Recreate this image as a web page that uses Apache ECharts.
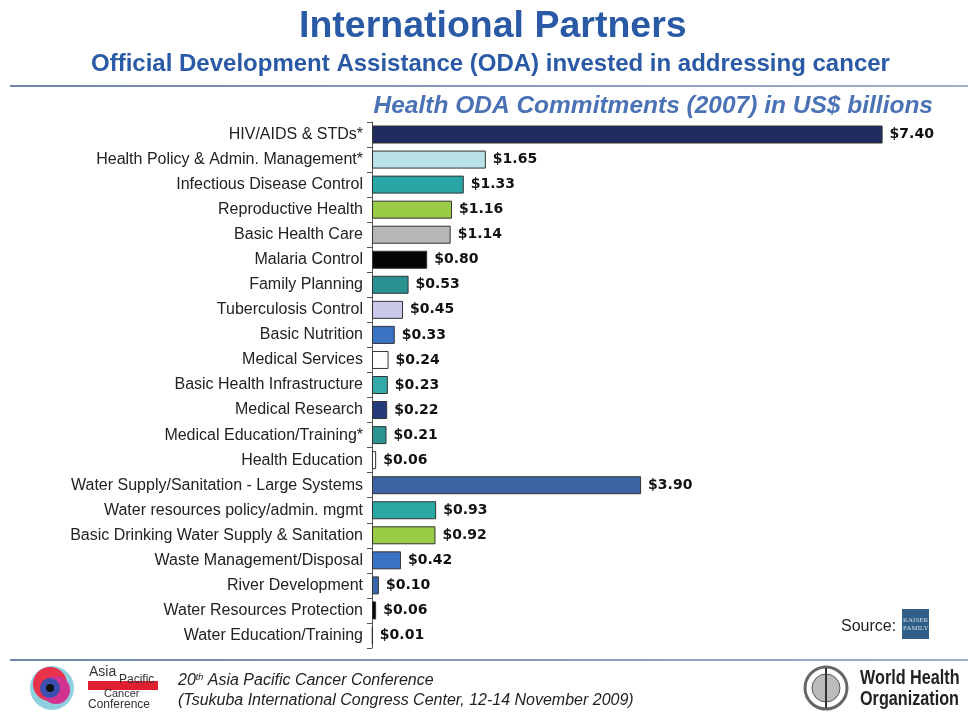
<!DOCTYPE html>
<html><head><meta charset="utf-8">
<script src="https://cdn.jsdelivr.net/npm/echarts@6/dist/echarts.min.js"></script>
<style>html,body{margin:0;padding:0;background:#fff;}#c{width:968px;height:713px;}</style>
</head><body><div id="c"></div>
<script>
const categories = [
  "HIV/AIDS & STDs*",
  "Health Policy & Admin. Management*",
  "Infectious Disease Control",
  "Reproductive Health",
  "Basic Health Care",
  "Malaria Control",
  "Family Planning",
  "Tuberculosis Control",
  "Basic Nutrition",
  "Medical Services",
  "Basic Health Infrastructure",
  "Medical Research",
  "Medical Education/Training*",
  "Health Education",
  "Water Supply/Sanitation - Large Systems",
  "Water resources policy/admin. mgmt",
  "Basic Drinking Water Supply & Sanitation",
  "Waste Management/Disposal",
  "River Development",
  "Water Resources Protection",
  "Water Education/Training"
];
const values = [7.40, 1.65, 1.33, 1.16, 1.14, 0.80, 0.53, 0.45, 0.33, 0.24, 0.23, 0.22, 0.21, 0.06, 3.90, 0.93, 0.92, 0.42, 0.10, 0.06, 0.01];
const barColors = ["#1f2b5c", "#b9e2e8", "#2aa6a6", "#9acb45", "#b7b7b9", "#050505", "#2a9191", "#c8c8e8", "#3a72c4", "#ffffff", "#33aaa8", "#263a7c", "#2a9490", "#ffffff", "#3b64a0", "#2aa8a2", "#9acb45", "#3a72c4", "#3a68ac", "#050505", "#ffffff"];

const chart = echarts.init(document.getElementById('c'), null, {renderer: 'canvas'});
const blue = '#2a5aa6';
const lineGrad = () => new echarts.graphic.LinearGradient(0, 0, 1, 0, [{offset: 0, color: '#6d86aa'}, {offset: 1, color: '#9fb0c8'}]);
chart.setOption({
  backgroundColor: '#ffffff',
  animation: false,
  grid: {left: 372, right: 44, top: 122, height: 526, containLabel: false},
  xAxis: {type: 'value', min: 0, max: 8, show: false},
  yAxis: {
    type: 'category', inverse: true, data: categories,
    axisLine: {show: true, lineStyle: {color: '#555', width: 1}},
    axisTick: {show: true, length: 5, lineStyle: {color: '#555'}},
    axisLabel: {fontFamily: 'Liberation Sans, Arial, sans-serif', fontSize: 16, color: '#222', margin: 9}
  },
  series: [{
    type: 'bar', barWidth: 18,
    data: values.map((v, i) => ({value: v, itemStyle: {color: barColors[i]}})),
    itemStyle: {borderColor: '#333', borderWidth: 1},
    label: {show: true, position: 'right', distance: 7,
      formatter: p => '$' + p.value.toFixed(2),
      fontFamily: 'DejaVu Sans, Verdana, sans-serif', fontWeight: 'bold', fontSize: 14, color: '#111'}
  }],
  graphic: [
    {type: 'text', left: 299, top: 8, style: {text: 'International Partners', font: 'bold 37.5px "Liberation Sans", Arial, sans-serif', fill: blue}},
    {type: 'text', left: 91, top: 52, style: {text: 'Official Development Assistance (ODA) invested in addressing cancer', font: 'bold 24px "Liberation Sans", Arial, sans-serif', fill: blue}},
    {type: 'rect', shape: {x: 10, y: 85, width: 958, height: 2}, style: {fill: lineGrad()}},
    {type: 'text', right: 35, top: 94, style: {text: 'Health ODA Commitments (2007) in US$ billions', font: 'italic bold 24.5px "Liberation Sans", Arial, sans-serif', fill: '#4b72b4'}},
    {type: 'text', left: 841, top: 619, style: {text: 'Source:', font: '16px "Liberation Sans", Arial, sans-serif', fill: '#222'}},
    {type: 'rect', shape: {x: 902, y: 609, width: 27, height: 30}, style: {fill: '#2f5f86'}},
    {type: 'text', left: 903, top: 616, style: {text: 'KAISER\nFAMILY', font: '7px "Liberation Serif", serif', fill: '#cfdbe6', lineHeight: 8}},
    {type: 'rect', shape: {x: 10, y: 659, width: 958, height: 2}, style: {fill: lineGrad()}},
    // Asia Pacific logo
    {type: 'circle', shape: {cx: 52, cy: 688, r: 22}, style: {fill: '#8fd0e0'}},
    {type: 'circle', shape: {cx: 50, cy: 684, r: 17}, style: {fill: '#e8324a'}},
    {type: 'circle', shape: {cx: 56, cy: 690, r: 14}, style: {fill: '#d2338f'}},
    {type: 'circle', shape: {cx: 50, cy: 688, r: 10}, style: {fill: '#3b4fb0'}},
    {type: 'circle', shape: {cx: 50, cy: 688, r: 4}, style: {fill: '#111'}},
    {type: 'rect', shape: {x: 88, y: 681, width: 70, height: 9}, style: {fill: '#e02030'}},
    {type: 'text', x: 89, y: 665, style: {text: 'Asia', font: '14px "Liberation Sans", Arial, sans-serif', fill: '#333'}},
    {type: 'text', x: 119, y: 674, style: {text: 'Pacific', font: '12px "Liberation Sans", Arial, sans-serif', fill: '#333'}},
    {type: 'text', x: 104, y: 688, style: {text: 'Cancer', font: '11px "Liberation Sans", Arial, sans-serif', fill: '#333'}},
    {type: 'text', x: 88, y: 699, style: {text: 'Conference', font: '12px "Liberation Sans", Arial, sans-serif', fill: '#333'}},
    {type: 'text', left: 178, top: 673, style: {rich: {a: {font: 'italic 16px "Liberation Sans", Arial, sans-serif', fill: '#222'}, s: {font: 'italic 9px "Liberation Sans", Arial, sans-serif', fill: '#222', verticalAlign: 'top'}}, text: '{a|20}{s|th}{a| Asia Pacific Cancer Conference}'}},
    {type: 'text', left: 178, top: 693, style: {text: '(Tsukuba International Congress Center, 12-14 November 2009)', font: 'italic 16px "Liberation Sans", Arial, sans-serif', fill: '#222'}},
    // WHO logo
    {type: 'circle', shape: {cx: 826, cy: 688, r: 21}, style: {fill: 'none', stroke: '#666', lineWidth: 3}},
    {type: 'circle', shape: {cx: 826, cy: 688, r: 14}, style: {fill: '#bbb', stroke: '#555', lineWidth: 1}},
    {type: 'rect', shape: {x: 825, y: 668, width: 2, height: 40}, style: {fill: '#333'}},
    {type: 'text', x: 860, y: 668, scaleX: 0.81, style: {text: 'World Health\nOrganization', font: 'bold 20px "Liberation Sans", Arial, sans-serif', fill: '#222', lineHeight: 21}}
  ]
});
</script></body></html>
